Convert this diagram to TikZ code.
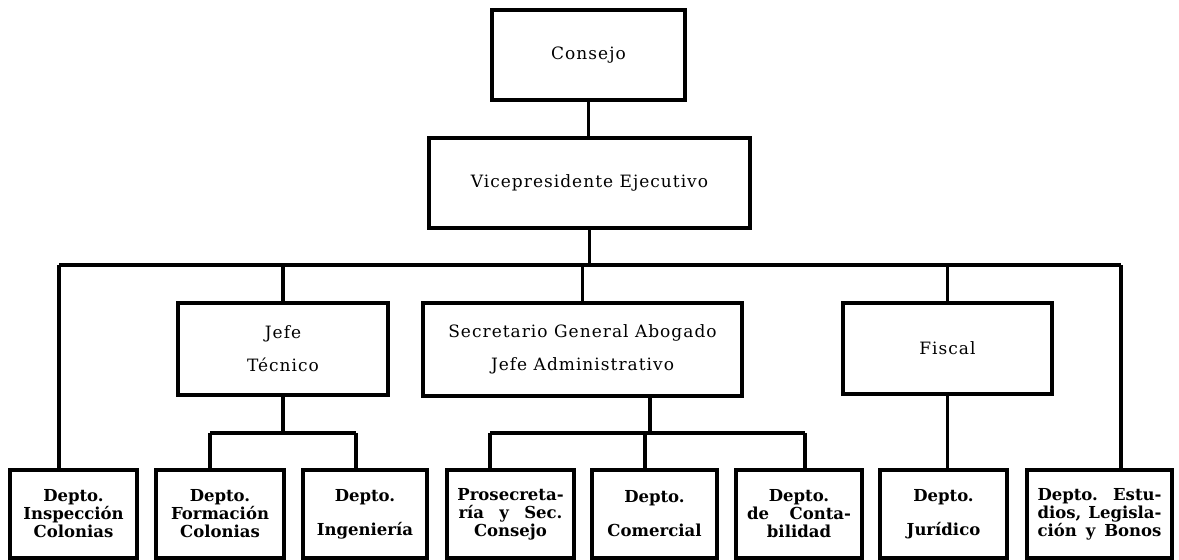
\documentclass[tikz,border=0pt]{standalone}
\usepackage{fontspec}
\setmainfont{DejaVu Serif}
\newfontfamily\upf[LetterSpace=6]{DejaVu Serif}
\newfontfamily\lowf{DejaVu Serif}
\begin{document}
\begin{tikzpicture}[x=1pt,y=-1pt,
  box/.style={draw, line width=3.2pt, inner sep=0pt, align=center},
  conn/.style={line width=3.2pt},
  uptext/.style={font=\upf\fontsize{17}{18}\selectfont},
  lowtext/.style={font=\lowf\bfseries\fontsize{16.5}{18}\selectfont},
  bot/.style={box, lowtext, minimum height=88pt}]
\useasboundingbox (0,0) rectangle (1179,560);
% upper boxes
\node[box, uptext, minimum width=193pt, minimum height=90pt] (consejo) at (588.5,55) {Consejo};
\node[box, uptext, minimum width=321pt, minimum height=90pt] (vp) at (589.5,183) {Vicepresidente Ejecutivo};
\node[box, uptext, minimum width=210pt, minimum height=92pt] (jefe) at (283,349) {Jefe\\[15pt]Técnico};
\node[box, uptext, minimum width=319pt, minimum height=93pt] (sec) at (582.5,349.5) {Secretario General Abogado\\[15pt]Jefe Administrativo};
\node[box, uptext, minimum width=209pt, minimum height=91pt] (fiscal) at (947.5,348.5) {Fiscal};
% bottom boxes
\node[bot, minimum width=127pt] (d1) at (73.5,514) {Depto.\\Inspección\\Colonias};
\node[bot, minimum width=128pt] (d2) at (220,514) {Depto.\\Formación\\Colonias};
\node[bot, minimum width=124pt] (d3) at (365,514) {Depto.\\[16pt]Ingeniería};
\node[bot, minimum width=127pt] (d4) at (510.5,514) {Prosecreta-\\\makebox[104pt][s]{ría y Sec.}\\Consejo};
\node[bot, minimum width=125pt] (d5) at (654.5,514) {Depto.\\[16pt]Comercial};
\node[bot, minimum width=126pt] (d6) at (799,514) {Depto.\\\makebox[104pt][s]{de Conta-}\\bilidad};
\node[bot, minimum width=127pt] (d7) at (943.5,514) {Depto.\\[16pt]Jurídico};
\node[bot, minimum width=145pt] (d8) at (1099.5,514) {\makebox[124pt][s]{Depto. Estu-}\\\makebox[124pt][s]{dios, Legisla-}\\\makebox[124pt][s]{ción y Bonos}};
% bus coordinates
\coordinate (busL) at (59,265);
\coordinate (busR) at (1121,265);
\coordinate (jA) at (210,433);
\coordinate (jB) at (356,433);
\coordinate (sT) at (650,433);
\coordinate (sA) at (490,433);
\coordinate (sM) at (645,433);
\coordinate (sB) at (805,433);
% connectors
\draw[conn] (consejo.south) -- (consejo.south |- vp.north);
\draw[conn] (vp.south) -- (vp.south |- busL);
\draw[conn] (busL) -- (busR);
\draw[conn] (busL) -- (busL |- d1.north);
\draw[conn] (busR) -- (busR |- d8.north);
\draw[conn] (jefe.north) -- (jefe.north |- busL);
\draw[conn] (sec.north) -- (sec.north |- busL);
\draw[conn] (fiscal.north) -- (fiscal.north |- busL);
\draw[conn] (jefe.south) -- (jefe.south |- jA);
\draw[conn] (jA) -- (jB);
\draw[conn] (jA) -- (jA |- d2.north);
\draw[conn] (jB) -- (jB |- d3.north);
\draw[conn] (sT |- sec.south) -- (sT);
\draw[conn] (sA) -- (sB);
\draw[conn] (sA) -- (sA |- d4.north);
\draw[conn] (sM) -- (sM |- d5.north);
\draw[conn] (sB) -- (sB |- d6.north);
\draw[conn] (fiscal.south) -- (fiscal.south |- d7.north);
\end{tikzpicture}
\end{document}
